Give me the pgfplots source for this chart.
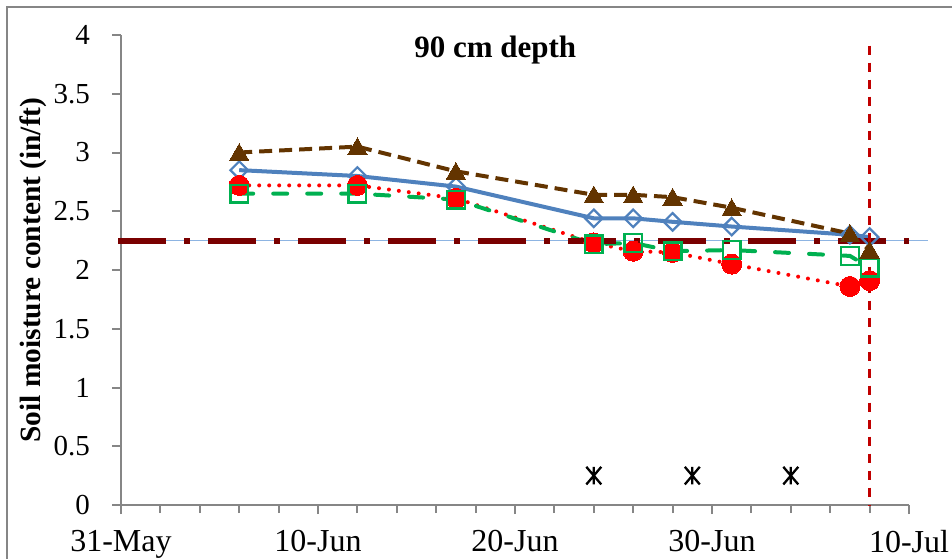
\documentclass[border=0pt]{standalone}
\usepackage{fontspec}
\setmainfont{Liberation Serif}
\usepackage{pgfplots}
\pgfplotsset{compat=1.18}
\definecolor{axgray}{RGB}{134,134,134}
\definecolor{cblue}{RGB}{79,129,189}
\definecolor{cred}{RGB}{255,0,0}
\definecolor{cgreen}{RGB}{0,176,80}
\definecolor{cbrown}{RGB}{99,52,0}
\definecolor{cdarkred}{RGB}{122,0,0}
\definecolor{cvred}{RGB}{192,0,0}
\definecolor{cthinblue}{RGB}{141,180,226}
\pgfdeclareplotmark{xstar}{%
  \pgfpathmoveto{\pgfqpoint{-0.85\pgfplotmarksize}{-\pgfplotmarksize}}%
  \pgfpathlineto{\pgfqpoint{0.85\pgfplotmarksize}{\pgfplotmarksize}}%
  \pgfpathmoveto{\pgfqpoint{-0.85\pgfplotmarksize}{\pgfplotmarksize}}%
  \pgfpathlineto{\pgfqpoint{0.85\pgfplotmarksize}{-\pgfplotmarksize}}%
  \pgfpathmoveto{\pgfqpoint{0pt}{\pgfplotmarksize}}%
  \pgfpathlineto{\pgfqpoint{0pt}{-\pgfplotmarksize}}%
  \pgfusepathqstroke}
\begin{document}
\begin{tikzpicture}[font=\fontsize{15}{18}\selectfont]
\begin{axis}[
  at={(0,0)}, anchor=south west,
  scale only axis, width=394pt, height=235pt,
  xmin=0, xmax=40, ymin=0, ymax=4,
  axis lines=left,
  axis line style={-, draw=axgray, line width=1pt},
  xtick={0,10,20,30,40},
  xticklabels={31-May,10-Jun,20-Jun,30-Jun,10-Jul},
  minor xtick={2,4,6,8,12,14,16,18,22,24,26,28,32,34,36,38},
  ytick={0,0.5,1,1.5,2,2.5,3,3.5,4},
  tick align=outside,
  major tick style={draw=axgray, line width=1pt},
  minor tick style={draw=axgray, line width=1pt},
  major tick length=4.5pt, minor tick length=4pt,
  /pgf/number format/assume math mode=true,
  xticklabel style={font=\fontsize{16}{19}\selectfont, yshift=-4.5pt},
  yticklabel style={font=\fontsize{14.5}{17}\selectfont, xshift=-7.5pt},
  clip=false,
]
% data series
\addplot[draw=cblue, line width=2pt, mark=square, mark size=3.1pt,
  mark options={solid, rotate=45, draw=cblue, fill=white, line width=1.1pt}]
  coordinates {(6,2.85) (12,2.80) (17,2.71) (24,2.44) (26,2.44) (28,2.41) (31,2.37) (37,2.30) (38,2.28)};
\addplot[draw=cred, line width=2pt, line cap=round, dash pattern=on 0pt off 5pt,
  mark=*, mark size=5pt, mark options={solid, draw=cred, fill=cred, line width=0pt}]
  coordinates {(6,2.72) (12,2.72) (17,2.61) (24,2.23) (26,2.16) (28,2.15) (31,2.05) (37,1.86) (38,1.91)};
\addplot[draw=cgreen, line width=2pt, line cap=round, dash pattern=on 7pt off 10pt,
  mark=square, mark size=4.4pt, mark options={solid, draw=cgreen, fill=none, line width=1.2pt}]
  coordinates {(6,2.65) (12,2.65) (17,2.60) (24,2.22) (26,2.23) (28,2.16) (31,2.17) (37,2.12) (38,2.02)};
\addplot[draw=cbrown, line width=2pt, dash pattern=on 6.5pt off 3.5pt,
  mark=triangle*, mark size=5.6pt, mark options={solid, draw=cbrown, fill=cbrown, line width=0pt, yshift=-1.2pt}]
  coordinates {(6,3.00) (12,3.05) (17,2.84) (24,2.64) (26,2.64) (28,2.62) (31,2.53) (37,2.31) (38,2.17)};
% threshold lines
\addplot[draw=cthinblue, line width=0.6pt] coordinates {(-0.15,2.25) (40.96,2.25)};
\addplot[draw=cdarkred, line width=3pt, dash pattern=on 24pt off 9pt on 3pt off 9pt]
  coordinates {(-0.15,2.25) (40,2.25)};
\addplot[draw=cvred, line width=1.6pt, dash pattern=on 4.5pt off 4pt]
  coordinates {(38,3.91) (38,0)};
% irrigation markers
\addplot[only marks, mark=xstar, mark size=4.4pt, mark options={draw=black, line width=1.15pt}]
  coordinates {(24,0.25) (29,0.25) (34,0.25)};
\node[anchor=base, font=\bfseries\fontsize{15.5}{18}\selectfont] at (axis cs:19,3.81) {90 cm depth};
\end{axis}
\node[rotate=90, font=\bfseries\fontsize{14.7}{18}\selectfont] at (-44pt,117.5pt) {Soil moisture content (in/ft)};
\draw[draw=axgray, line width=1pt] (-57pt,-40pt) -- (-57pt,249pt) -- (430pt,249pt);
\pgfresetboundingbox
\path (-60.5pt,-26.5pt) rectangle (415.5pt,252.5pt);
\end{tikzpicture}
\end{document}
